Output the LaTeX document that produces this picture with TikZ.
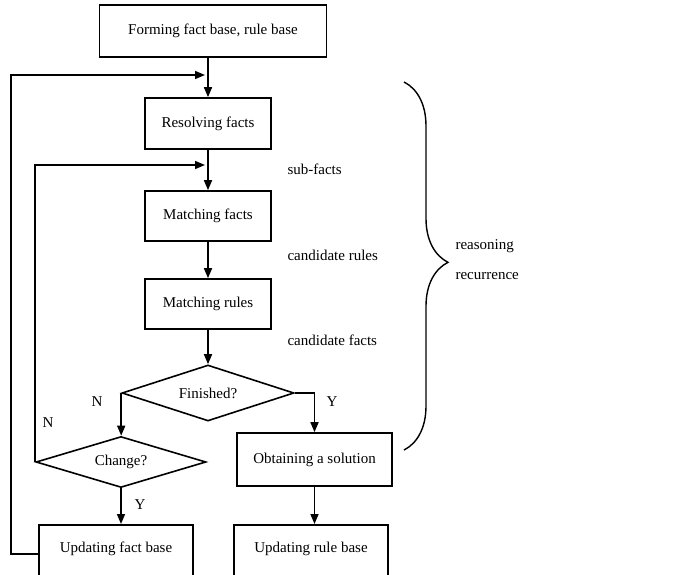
\documentclass[tikz,border=0pt]{standalone}
\usepackage{fontspec}
\setmainfont{Liberation Serif}
\usetikzlibrary{shapes.geometric,arrows.meta,decorations.pathreplacing}
\begin{document}
\begin{tikzpicture}
[
    x=1pt, y=-1pt,
    every node/.style={font=\fontsize{15}{18}\selectfont},
    box/.style={draw, line width=1.6pt, rectangle, inner sep=0pt},
    decision/.style={draw, line width=1.6pt, diamond, aspect=3, inner sep=0pt},
    flow/.style={line width=1.6pt, -{Triangle[length=10pt,width=8pt]}},
    link/.style={line width=1.4pt},
]
\useasboundingbox (0,0) rectangle (681,575);
\node[box, minimum width=227pt, minimum height=52pt] (form) at (213,31) {Forming fact base, rule base};
\node[box, minimum width=126pt, minimum height=51pt] (resolve) at (208,123.5) {Resolving facts};
\node[box, minimum width=126pt, minimum height=50pt] (mfacts) at (208,216) {Matching facts};
\node[box, minimum width=126pt, minimum height=50pt] (mrules) at (208,304) {Matching rules};
\node[decision, minimum width=172pt, minimum height=56pt] (fin) at (208,393) {Finished?};
\node[decision, minimum width=170pt, minimum height=51pt] (chg) at (121,462) {Change?};
\node[box, minimum width=155pt, minimum height=53pt] (obtain) at (314.5,459.5) {Obtaining a solution};
\node[box, minimum width=154pt, text height=28pt, text depth=30pt, anchor=north] (upfact) at (116,524) {Updating fact base};
\node[box, minimum width=154pt, text height=28pt, text depth=30pt, anchor=north] (uprule) at (311,524) {Updating rule base};
\coordinate (top in) at (205,75);
\coordinate (mid in) at (205,165);
\draw[flow] (form.south -| resolve.north) -- (resolve.north);
\draw[flow] (resolve) -- (mfacts);
\draw[flow] (mfacts) -- (mrules);
\draw[flow] (mrules) -- (fin);
\draw[flow] (fin.west) -- (fin.west |- chg.north);
\draw[flow] (fin.east) -| (obtain.north);
\draw[flow] (chg.south) -- (chg.south |- upfact.north);
\draw[flow] (obtain.south) -- (obtain.south |- uprule.north);
\draw[flow] (chg.west) |- (mid in);
\draw[flow] (upfact.west) -- ++(-27,0) |- (top in);
\node (fin no) at (97,402) {N};
\node (fin yes) at (332,402) {Y};
\node (chg no) at (48,423) {N};
\node (chg yes) at (140,505) {Y};
\node[anchor=west] (subf) at (284,169) {sub-facts};
\node[anchor=west] (candr) at (284,255) {candidate rules};
\node[anchor=west] (candf) at (284,340) {candidate facts};
\draw[link, decorate, decoration={brace, amplitude=44pt, aspect=0.49}] (404,82) -- (404,450);
\node[anchor=west, align=left, font=\fontsize{15}{30}\selectfont] (reason) at (452,260) {reasoning\\recurrence};
\end{tikzpicture}
\end{document}
